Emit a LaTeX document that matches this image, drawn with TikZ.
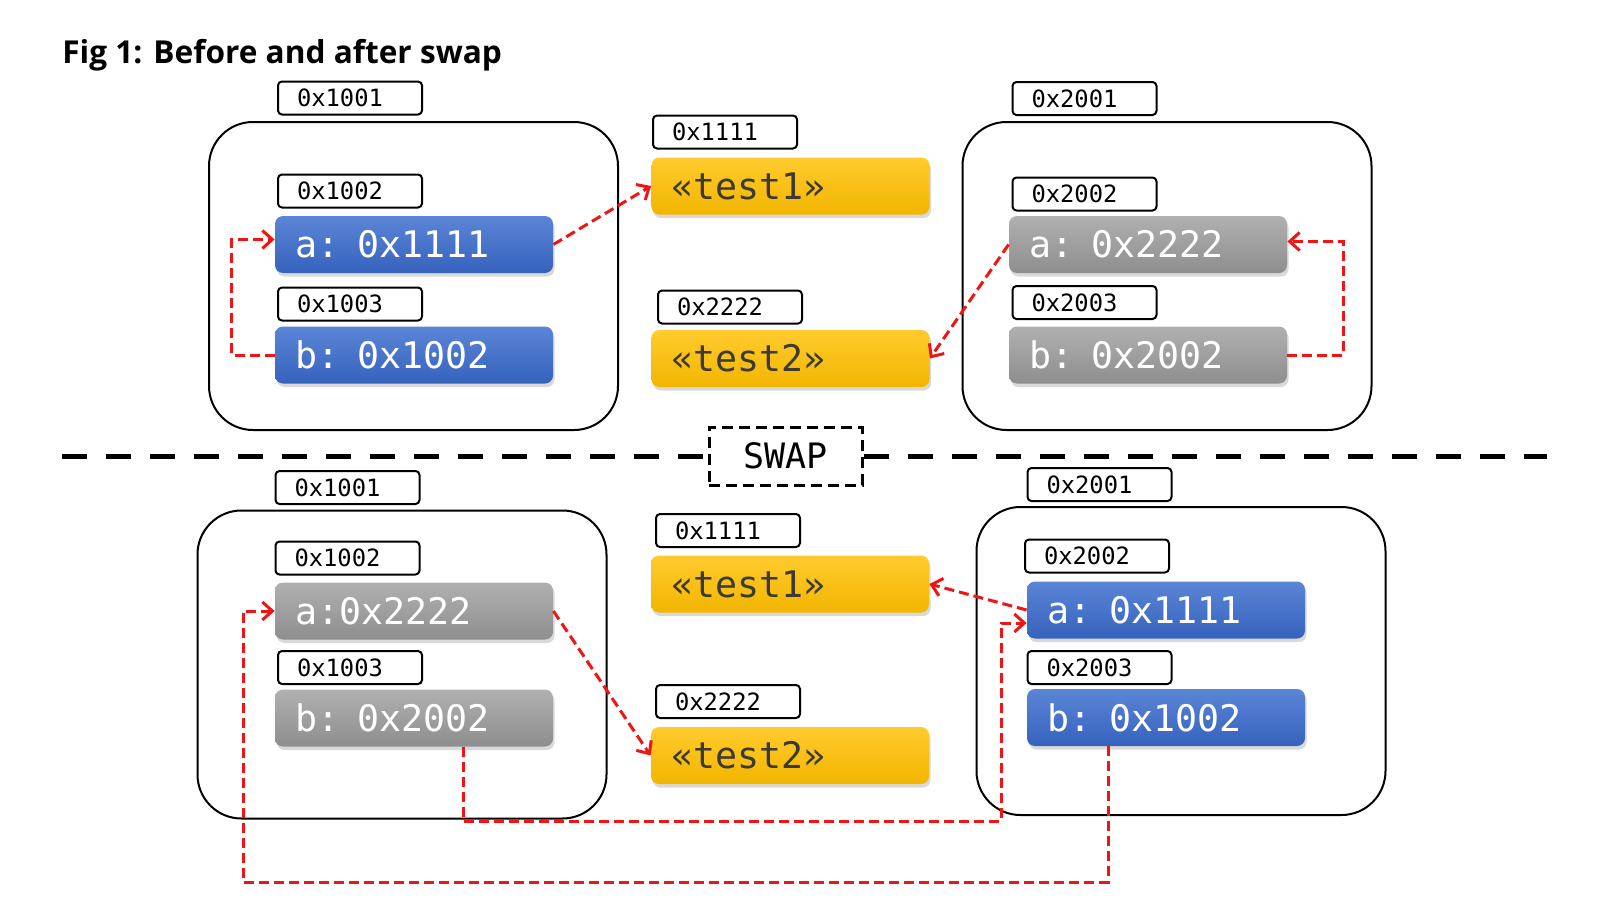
\documentclass[tikz,border=0pt]{standalone}
\usepackage{fontspec}
\newfontfamily\codefont{DejaVu Sans Mono}
\newfontfamily\headfont{Open Sans}
\usetikzlibrary{arrows.meta,shadows}
\definecolor{valblueT}{HTML}{5B85D6}
\definecolor{valblueB}{HTML}{3562BD}
\definecolor{valgrayT}{HTML}{B0B0B0}
\definecolor{valgrayB}{HTML}{8E8E8E}
\definecolor{strgoldT}{HTML}{FFCB2E}
\definecolor{strgoldB}{HTML}{F2B500}
\definecolor{ptrred}{HTML}{F01414}
\definecolor{strtext}{HTML}{3D3A33}
\tikzset{
  addr/.style={draw,line width=1pt,rounded corners=2pt,fill=white,inner xsep=9.5pt,inner ysep=0pt,
    text width=53pt,minimum height=16.5pt,align=left,font=\codefont\fontsize{11.9}{14}\selectfont},
  val/.style={rounded corners=4pt,inner xsep=10pt,inner ysep=0pt,text width=119pt,minimum height=28.5pt,
    align=left,text=white,font=\codefont\fontsize{18.3}{20}\selectfont,
    drop shadow={shadow xshift=0.8pt,shadow yshift=-1.8pt,opacity=0.3}},
  ptrval/.style={val,top color=valblueT,bottom color=valblueB},
  dataval/.style={val,top color=valgrayT,bottom color=valgrayB},
  strval/.style={val,top color=strgoldT,bottom color=strgoldB,text=strtext},
  memframe/.style={draw,line width=1pt,rounded corners=22pt,minimum width=204.5pt,minimum height=154pt},
  ptr/.style={draw=ptrred,line width=1.5pt,dash pattern=on 5pt off 2.5pt,-{Straight Barb[length=5pt,width=9pt]}},
  divider/.style={line width=2.5pt,dash pattern=on 12.5pt off 9.5pt},
}
\begin{document}
\begin{tikzpicture}[x=0.5pt,y=-0.5pt]
  \useasboundingbox (0,0) rectangle (1623,910);
  \node[anchor=base west,inner sep=0,font=\headfont\bfseries\fontsize{15.8}{19}\selectfont] (title) at (62,63) {Fig 1: Before and after swap};
  % before
  \node[memframe] (m1) at (413.5,276) {};
  \node[memframe] (m2) at (1167,276) {};
  \node[addr] (m1addr) at (350,98) {0x1001};
  \node[addr] (a1addr) at (350,191) {0x1002};
  \node[ptrval] (a1) at (414,244.5) {a: 0x1111};
  \node[addr] (b1addr) at (350,304) {0x1003};
  \node[ptrval] (b1) at (414,355) {b: 0x1002};
  \node[addr] (s1addr) at (725,132) {0x1111};
  \node[strval] (s1) at (790.5,186) {«test1»};
  \node[addr] (s2addr) at (730,307) {0x2222};
  \node[strval] (s2) at (790.5,358.5) {«test2»};
  \node[addr] (m2addr) at (1084.5,98.5) {0x2001};
  \node[addr] (a2addr) at (1084.5,194) {0x2002};
  \node[dataval] (a2) at (1148,244.5) {a: 0x2222};
  \node[addr] (b2addr) at (1084.5,302.5) {0x2003};
  \node[dataval] (b2) at (1148,355) {b: 0x2002};
  \draw[ptr] (b1.west) -- ++(-43,0) |- ([yshift=2.5pt]a1.west);
  \draw[ptr] (a1.east) -- (s1.west);
  \draw[ptr] (b2.east) -- ++(56,0) |- ([yshift=1.5pt]a2.east);
  \draw[ptr] (a2.west) -- (s2.east);
  % swap line
  \node[draw,line width=1.5pt,dash pattern=on 5.5pt off 3pt,minimum width=76.5pt,minimum height=29pt,
    font=\codefont\fontsize{17.5}{20}\selectfont] (swap) at (785.5,456) {SWAP};
  \coordinate (divL) at (62,456);
  \coordinate (divR) at (1547,456);
  \draw[divider] (divL) -- (swap.west);
  \draw[divider] (swap.east) -- (divR);
  % after
  \node[memframe] (m3) at (402,664.5) {};
  \node[memframe] (m4) at (1181,661) {};
  \node[addr] (m3addr) at (347.5,487.5) {0x1001};
  \node[addr] (a3addr) at (347.5,558) {0x1002};
  \node[dataval] (a3) at (414,611) {a:0x2222};
  \node[addr] (b3addr) at (350,667.5) {0x1003};
  \node[dataval] (b3) at (414,718) {b: 0x2002};
  \node[addr] (s3addr) at (728,530.5) {0x1111};
  \node[strval] (s3) at (790,584) {«test1»};
  \node[addr] (s4addr) at (728,701.5) {0x2222};
  \node[strval] (s4) at (790,755.5) {«test2»};
  \node[addr] (m4addr) at (1099.5,484.5) {0x2001};
  \node[addr] (a4addr) at (1097,556) {0x2002};
  \node[ptrval] (a4) at (1166,610) {a: 0x1111};
  \node[addr] (b4addr) at (1099.5,667.5) {0x2003};
  \node[ptrval] (b4) at (1166,717.5) {b: 0x1002};
  \coordinate (bendA) at (1001,821);
  \coordinate (bendB) at (243,882);
  \draw[ptr] (a3.east) -- (s4.west);
  \draw[ptr] (a4.west) -- (s3.east);
  \draw[ptr] ([xshift=24.5pt]b3.south) |- (bendA) |- ([yshift=-6.5pt]a4.west);
  \draw[ptr] ([xshift=-29pt]b4.south) |- (bendB) |- (a3.west);
\end{tikzpicture}
\end{document}
